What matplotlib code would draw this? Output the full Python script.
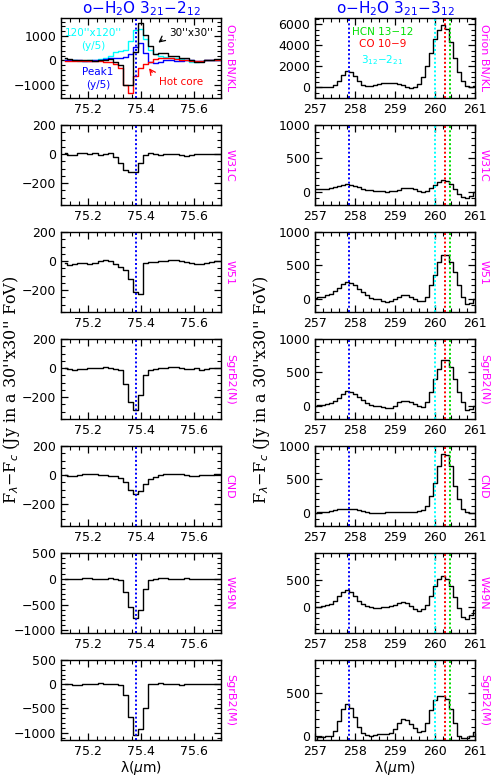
import numpy as np
import matplotlib
matplotlib.use("Agg")
import matplotlib.pyplot as plt
from matplotlib.ticker import MultipleLocator

plt.rcParams['font.family'] = ['DejaVu Sans']
plt.rcParams['mathtext.fontset'] = 'dejavusans'

# ---------------- data ----------------
sources = ["Orion BN/KL", "W31C", "W51", "SgrB2(N)", "CND", "W49N", "SgrB2(M)"]

# left column: 75.4 um line, bin centres
wl_left = np.round(75.1135 + 0.019 * np.arange(32), 4)

orion_30 = [120, 60, 20, 0, 10, 0, -10, 0, 30, 50, -50, -200, -1000, -1000, 350, 1550,
            1050, 600, 250, 300, 300, 200, 200, 100, 100, 0, -50, -50, 0, 0, 50, 50]
orion_hot = [-30, -40, -40, -40, -30, -30, -20, -20, -50, -80, -150, -300, -1000, -1350, -650, -300,
             -150, -50, 50, 100, 100, 80, 50, 0, 0, -20, -20, -20, 0, 0, 0, 0]
orion_120 = [0, 0, 0, -20, -20, 0, 20, 50, 100, 200, 350, 400, 450, 800, 1250, 1300,
             900, 450, 250, 200, 150, 100, 100, 50, 0, -50, -50, -30, 0, 0, 0, 0]
orion_peak1 = [0, 0, 0, 0, -20, -20, 0, 20, 50, 80, 100, 120, 150, 250, 550, 700,
               300, -50, -100, -50, 0, 0, -20, -20, 0, 0, -30, -30, 0, 0, 0, 0]
w31c_l = [10, -5, -5, 5, 10, 0, 5, -5, 0, 5, -20, -60, -110, -120, -120, -60,
          -5, 10, 0, -5, 0, 0, 0, -5, -10, -5, 0, 0, 0, 0, 0, 0]
w51_l = [-10, -30, -20, -10, -10, -20, -10, 0, 10, 0, -20, -40, -60, -125, -210, -225,
         -10, -5, -5, 0, 0, 5, 5, 0, -5, -10, -20, -20, -10, -5, 0, 0]
sgrb2n_l = [0, -5, -10, -5, -5, 0, 0, 0, 5, 0, -5, -15, -110, -230, -290, -185,
            -45, -15, -5, 0, 0, 5, 5, 0, -5, -5, 0, -10, -5, 0, 0, 0]
cnd_l = [0, -5, -5, 0, 5, 5, 5, 0, 0, -5, -5, -20, -50, -105, -130, -110,
         -60, -30, -10, 0, 5, 5, 10, 10, 0, -5, -5, 0, 0, 0, 5, 5]
w49n_l = [0, -10, -10, 0, 10, 10, 0, -10, 0, 10, 0, -20, -250, -550, -750, -600,
          -200, -20, 0, 10, 10, 0, -10, 0, 10, 0, -10, 0, 0, 0, 0, 0]
sgrb2m_l = [10, -5, -10, -10, -5, 0, 10, 20, 15, 5, 0, -10, -220, -680, -1050, -930,
            -500, 10, 15, 20, 10, 5, -5, -10, 5, 10, 0, -5, 0, -5, 0, 0]

# right column: 257-261 um, 0.1 um grid
wl_right = np.round(np.linspace(257.0, 261.0, 41), 2)

orion_r = [0, 0, 0, 0, 50, 200, 600, 1200, 1600, 1500, 1100, 600, 250, 100, 150, 250, 350, 400, 450, 420,
           380, 300, 200, 80, -50, 0, 300, 1000, 2000, 3300, 4600, 5500, 5900, 5600, 4300, 2800,
           1500, 600, 100, 0, 100]
w31c_r = [40, 40, 40, 45, 55, 70, 85, 100, 110, 100, 85, 65, 45, 30, 20, 15, 15, 10, 0, 5,
          15, 30, 50, 60, 55, 40, 15, -10, 10, 50, 100, 150, 170, 160, 110, 40,
          -30, -80, -90, -60, 0]
w51_r = [10, 20, 30, 50, 70, 110, 160, 220, 250, 240, 200, 150, 100, 50, 10, 0, -10, -30, -50, -30,
         -10, 30, 50, 50, 30, 0, -40, -40, 30, 200, 350, 550, 650, 650, 550, 400,
         200, 20, -80, -70, 0]
sgrb2n_r = [0, 5, 10, 20, 40, 70, 120, 180, 225, 210, 180, 130, 80, 40, 10, 0, -5, -20, -30, -40,
            0, 50, 70, 70, 50, 20, -10, -20, 50, 200, 400, 550, 680, 680, 580, 400,
            200, 50, -60, -50, 0]
cnd_r = [0, 5, 10, 15, 20, 35, 50, 55, 60, 55, 50, 35, 20, 10, 0, 0, 0, 0, 5, 5,
         10, 10, 10, 10, 10, 15, 20, 40, 100, 250, 450, 700, 880, 870, 700, 400,
         200, 60, 10, 0, 0]
w49n_r = [0, 10, 20, 40, 60, 120, 200, 280, 310, 280, 200, 120, 60, 20, 0, -10, -10, 0, 10, 30,
          50, 80, 90, 70, 30, -30, -60, -40, 50, 200, 380, 520, 570, 520, 380, 180,
          -20, -180, -220, -150, -50]
sgrb2m_r = [-45, -15, -10, -5, 0, 50, 170, 310, 370, 330, 220, 100, 30, 5, 0, 5, 15, 20, 15, 30,
            80, 150, 200, 190, 140, 90, 45, 60, 150, 300, 420, 470, 470, 430, 320, 150,
            0, -30, -30, 0, 40]

left_data = [None, w31c_l, w51_l, sgrb2n_l, cnd_l, w49n_l, sgrb2m_l]
right_data = [orion_r, w31c_r, w51_r, sgrb2n_r, cnd_r, w49n_r, sgrb2m_r]

left_ylim = [(-1550, 1750), (-350, 200), (-350, 200), (-350, 200), (-350, 200), (-1050, 500), (-1150, 500)]
left_major = [1000, 200, 200, 200, 200, 500, 500]
left_minor = [200, 50, 50, 50, 50, 100, 100]
right_ylim = [(-1000, 6600), (-200, 1000), (-200, 1000), (-200, 1000), (-200, 1000), (-470, 990), (-50, 890)]
right_major = [2000, 500, 500, 500, 500, 500, 500]
right_minor = [500, 100, 100, 100, 100, 100, 100]

line_left = 75.382
lines_right = {"blue": 257.85, "cyan": 259.99, "red": 260.24, "#00e000": 260.37}

# ---------------- figure ----------------
W, H = 491, 779
fig = plt.figure(figsize=(W / 100, H / 100), dpi=100)

def ax_rect(x0, x1, y0, y1):
    return [x0 / W, 1 - y1 / H, (x1 - x0) / W, (y1 - y0) / H]

dot = (0, (1, 1.2))
MAG = '#ff00ff'
ANN = 7.5

def style(ax, xmaj, xmin, ymaj, ymin):
    ax.xaxis.set_major_locator(MultipleLocator(xmaj))
    ax.xaxis.set_minor_locator(MultipleLocator(xmin))
    ax.yaxis.set_major_locator(MultipleLocator(ymaj))
    ax.yaxis.set_minor_locator(MultipleLocator(ymin))
    ax.tick_params(which='both', direction='in', top=True, right=True, labelsize=9)
    ax.tick_params(which='major', length=5, width=0.9)
    ax.tick_params(which='minor', length=2.8, width=0.8)
    for s in ax.spines.values():
        s.set_linewidth(1.0)

for i in range(7):
    top = 18 + 107 * i
    axl = fig.add_axes(ax_rect(61, 221, top, top + 80))
    axr = fig.add_axes(ax_rect(315, 475, top, top + 80))

    # left
    if i == 0:
        axl.step(wl_left, orion_120, where='mid', color='cyan', lw=1.0)
        axl.step(wl_left, orion_peak1, where='mid', color='blue', lw=1.0)
        axl.step(wl_left, orion_hot, where='mid', color='red', lw=1.0)
        axl.step(wl_left, orion_30, where='mid', color='black', lw=1.0)
        axl.text(0.20, 0.81, "120''x120''", transform=axl.transAxes, color='cyan',
                 ha='center', va='center', fontsize=ANN)
        axl.text(0.20, 0.65, "(y/5)", transform=axl.transAxes, color='cyan',
                 ha='center', va='center', fontsize=ANN)
        axl.text(0.81, 0.81, "30''x30''", transform=axl.transAxes, color='black',
                 ha='center', va='center', fontsize=ANN)
        axl.annotate("", xy=(0.595, 0.67), xytext=(0.645, 0.75), xycoords='axes fraction',
                     arrowprops=dict(arrowstyle='->', color='black', lw=0.9))
        axl.text(0.23, 0.33, "Peak1", transform=axl.transAxes, color='blue',
                 ha='center', va='center', fontsize=ANN)
        axl.text(0.23, 0.16, "(y/5)", transform=axl.transAxes, color='blue',
                 ha='center', va='center', fontsize=ANN)
        axl.text(0.75, 0.20, "Hot core", transform=axl.transAxes, color='red',
                 ha='center', va='center', fontsize=ANN)
        axl.annotate("", xy=(0.54, 0.40), xytext=(0.58, 0.29), xycoords='axes fraction',
                     arrowprops=dict(arrowstyle='->', color='red', lw=0.9))
    else:
        axl.step(wl_left, left_data[i], where='mid', color='black', lw=1.0)
    axl.axvline(line_left, color='blue', ls=dot, lw=1.4)
    axl.set_xlim(75.1, 75.7)
    axl.set_ylim(*left_ylim[i])
    style(axl, 0.2, 0.2 / 6, left_major[i], left_minor[i])
    axl.xaxis.set_major_formatter(plt.FuncFormatter(lambda v, p: f"{v:.1f}"))

    # right
    axr.step(wl_right, right_data[i], where='mid', color='black', lw=1.0)
    for c, xv in lines_right.items():
        axr.axvline(xv, color=c, ls=dot, lw=1.4)
    axr.set_xlim(257, 261)
    axr.set_ylim(*right_ylim[i])
    style(axr, 1, 0.2, right_major[i], right_minor[i])
    if i == 0:
        axr.text(0.42, 0.83, "HCN 13−12", transform=axr.transAxes, color='#00e000',
                 ha='center', va='center', fontsize=ANN)
        axr.text(0.42, 0.68, "CO 10−9", transform=axr.transAxes, color='red',
                 ha='center', va='center', fontsize=ANN)
        axr.text(0.42, 0.48, r"3$_{12}$−2$_{21}$", transform=axr.transAxes, color='cyan',
                 ha='center', va='center', fontsize=ANN)
        axl.set_title(r"o−H$_2$O 3$_{21}$−2$_{12}$", color='blue', fontsize=11, pad=2)
        axr.set_title(r"o−H$_2$O 3$_{21}$−3$_{12}$", color='blue', fontsize=11, pad=2)

    # source labels
    for ax in (axl, axr):
        ax.text(1.055, 0.5, sources[i], transform=ax.transAxes, color=MAG,
                rotation=-90, ha='center', va='center', fontsize=8)

    if i == 6:
        axl.set_xlabel(r"λ($\mu$m)", fontsize=10, labelpad=1)
        axr.set_xlabel(r"λ($\mu$m)", fontsize=10, labelpad=1)

ylab = r"F$_\lambda$−F$_c$ (Jy in a 30''x30'' FoV)"
fig.text(12 / W, 1 - 390 / H, ylab, rotation=90, ha='center', va='center', fontsize=11.5,
         family='DejaVu Serif')
fig.text(262 / W, 1 - 390 / H, ylab, rotation=90, ha='center', va='center', fontsize=11.5,
         family='DejaVu Serif')

fig.savefig("out.png", dpi=100)
